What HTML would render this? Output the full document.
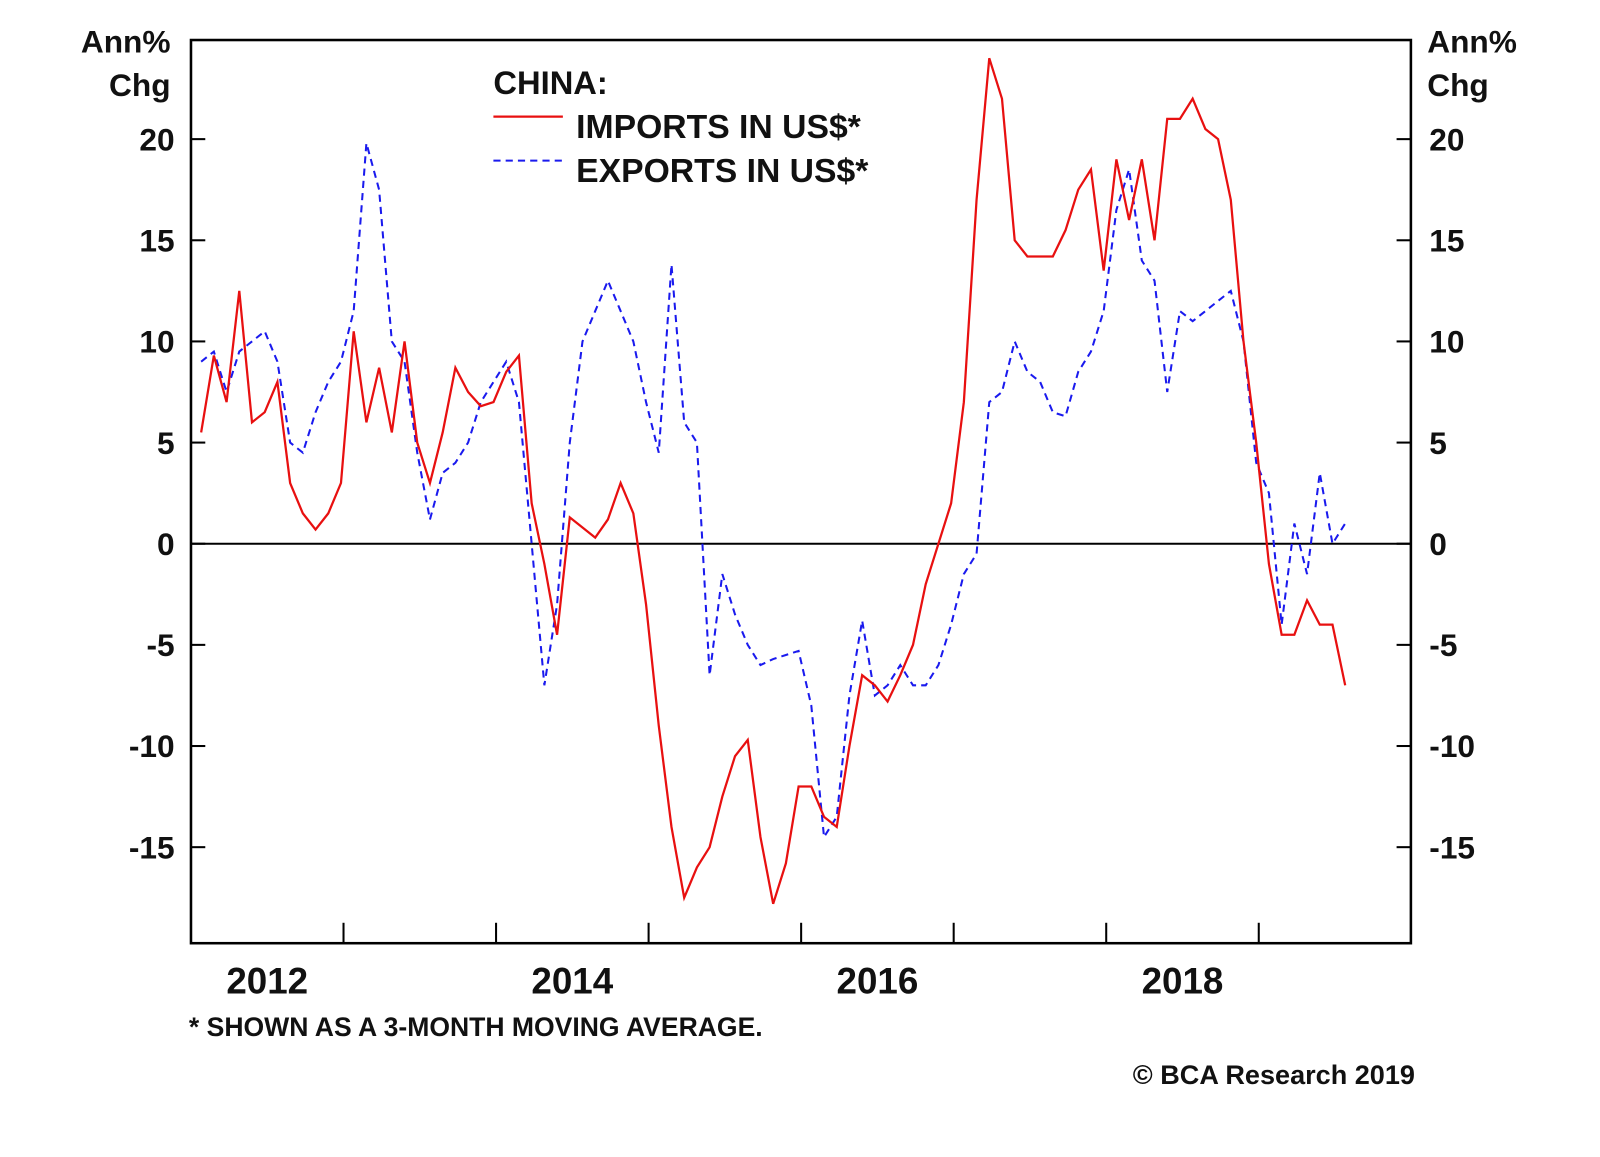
<!DOCTYPE html>
<html><head><meta charset="utf-8"><style>
body{margin:0;background:#fff;width:1600px;height:1152px;overflow:hidden}
svg text{font-family:"Liberation Sans",sans-serif;font-weight:bold;fill:#111}
</style></head><body>
<svg id="chart" width="1600" height="1152" xmlns="http://www.w3.org/2000/svg"><g id="g" transform="translate(-1.1,1.2) scale(1.0217)"></g></svg>
<script>
const yTicks=[20,15,10,5,0,-5,-10,-15];
const yearLabels=["2012","2014","2016","2018"];
const yearTicks=[2013,2014,2015,2016,2017,2018,2019];
const imports=[5.5,9.3,7,12.5,6,6.5,8,3,1.5,0.7,1.5,3,10.5,6,8.7,5.5,10,5,3,5.5,8.7,7.5,6.8,7,8.5,9.3,2,-1,-4.5,1.3,0.8,0.3,1.2,3,1.5,-3,-9,-14,-17.5,-16,-15,-12.5,-10.5,-9.7,-14.5,-17.8,-15.8,-12,-12,-13.5,-14,-10,-6.5,-7,-7.8,-6.5,-5,-2,0,2,7,17,24,22,15,14.2,14.2,14.2,15.5,17.5,18.5,13.5,19,16,19,15,21,21,22,20.5,20,17,10,5,-1,-4.5,-4.5,-2.8,-4,-4,-7];
const exports_=[9,9.5,7.5,9.5,10,10.5,9,5,4.5,6.5,8,9,11.5,19.8,17.5,10,9,4.5,1.2,3.5,4,5,7,8,9,7,0,-7,-3,5,10,11.5,13,11.5,10,7,4.5,13.8,6,5,-6.5,-1.5,-3.5,-5,-6,-5.7,-5.5,-5.3,-8,-14.5,-13.5,-7.5,-3.8,-7.5,-7,-6,-7,-7,-6,-4,-1.5,-0.5,7,7.5,10,8.5,8,6.5,6.3,8.5,9.5,11.5,16.5,18.5,14,13,7.5,11.5,11,11.5,12,12.5,10,4,2.5,-4,1,-1.5,3.5,0,1];
const L=188,R=1382,T=38,B=922;
const x=t=>L+(t-2012)*149.3;
const xi=i=>x(2012+(i+0.8)/12);
const y=v=>531-v*19.8;
const svg=document.getElementById('g');
function el(tag,attrs,txt){const e=document.createElementNS('http://www.w3.org/2000/svg',tag);for(const k in attrs)e.setAttribute(k,attrs[k]);if(txt!==undefined)e.textContent=txt;svg.appendChild(e);return e;}
let e=el('rect',{x:L,y:T,width:R-L,height:B-T,fill:'none',stroke:'#000','stroke-width':2.5});


yTicks.forEach(v=>{
 let a=el('line',{x1:L,x2:L+14,y1:y(v),y2:y(v),stroke:'#000','stroke-width':2});
 
 
 let b=el('line',{x1:R-14,x2:R,y1:y(v),y2:y(v),stroke:'#000','stroke-width':2});
 
 
 let t1=el('text',{x:172,y:y(v)+11,'text-anchor':'end','font-size':31},String(v));
 
 
 let t2=el('text',{x:1400,y:y(v)+11,'font-size':31},String(v));
 
 
});
yearTicks.forEach(yr=>{
 let a=el('line',{x1:x(yr),x2:x(yr),y1:B-20,y2:B,stroke:'#000','stroke-width':2});
 
 
});
yearLabels.forEach(s=>{
 let t=el('text',{x:x(+s+0.5),y:971,'text-anchor':'middle','font-size':36},s);
 
 
});
let z=el('line',{x1:L,x2:R,y1:y(0),y2:y(0),stroke:'#000','stroke-width':2});


let pe=el('polyline',{points:exports_.map((v,i)=>xi(i)+','+y(v)).join(' '),fill:'none',stroke:'#1a1aee','stroke-width':2,'stroke-dasharray':'7,5'});


let pi=el('polyline',{points:imports.map((v,i)=>xi(i)+','+y(v)).join(' '),fill:'none',stroke:'#e81010','stroke-width':2.2});


[['Ann%',168,50,'end'],['Chg',168,93,'end'],['Ann%',1398,50,'start'],['Chg',1398,93,'start']].forEach(a=>{
 let t=el('text',{x:a[1],y:a[2],'text-anchor':a[3],'font-size':31},a[0]);
 
 
});
let lt=el('text',{x:484,y:91,'font-size':32},'CHINA:');


let l1=el('line',{x1:484,x2:552,y1:113,y2:113,stroke:'#e81010','stroke-width':2.2});


let l1t=el('text',{x:565,y:134,'font-size':33},'IMPORTS IN US$*');


let l2=el('line',{x1:484,x2:552,y1:156,y2:156,stroke:'#1a1aee','stroke-width':2,'stroke-dasharray':'7,5'});


let l2t=el('text',{x:565,y:177,'font-size':33},'EXPORTS IN US$*');


let fn=el('text',{x:186,y:1013,'font-size':26},'* SHOWN AS A 3-MONTH MOVING AVERAGE.');


let cp=el('text',{x:1386,y:1060,'text-anchor':'end','font-size':26.5},'© BCA Research 2019');


</script>
</body></html>
